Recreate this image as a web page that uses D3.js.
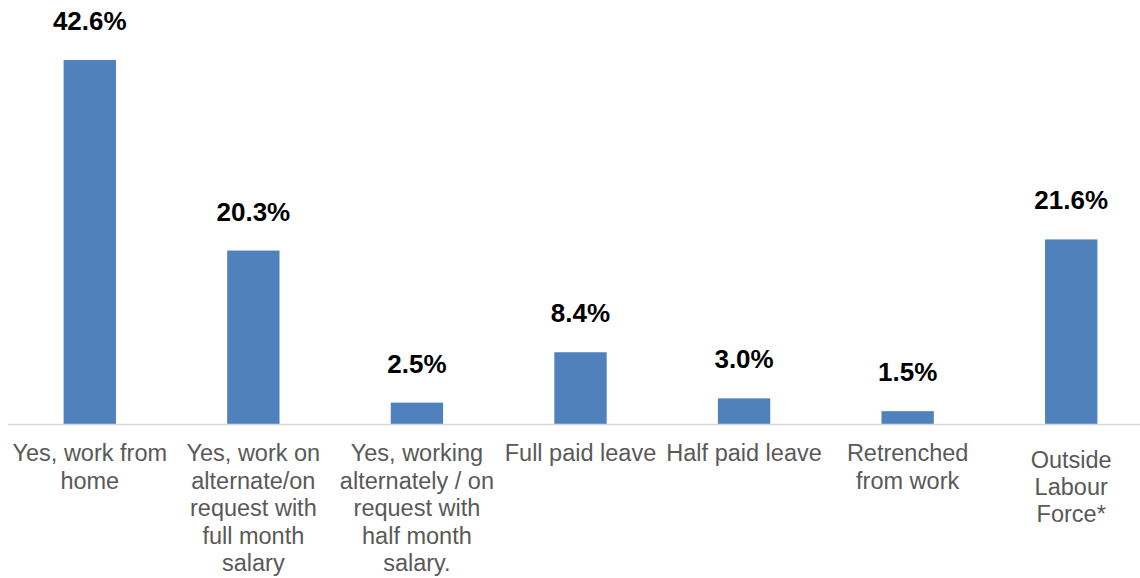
<!DOCTYPE html>
<html>
<head>
<meta charset="utf-8">
<script src="https://cdn.jsdelivr.net/npm/d3@7"></script>
<style>
  html, body { margin: 0; padding: 0; background: #fff; }
  svg { display: block; font-family: "Liberation Sans", Arial, sans-serif; }
</style>
</head>
<body>
<svg id="chart" width="1140" height="578"></svg>
<script>
// Employment status categories (each label broken into its display lines)
const categories = [
  "Yes, work from home",
  "Yes, work on alternate/on request with full month salary",
  "Yes, working alternately / on request with half month salary.",
  "Full paid leave",
  "Half paid leave",
  "Retrenched from work",
  "Outside Labour Force*"
];
const categoryLines = [
  ["Yes, work from", "home"],
  ["Yes, work on", "alternate/on", "request with", "full month", "salary"],
  ["Yes, working", "alternately / on", "request with", "half month", "salary."],
  ["Full paid leave"],
  ["Half paid leave"],
  ["Retrenched", "from work"],
  ["Outside", "Labour", "Force*"]
];
// Share of respondents, in percent
const values = [42.6, 20.3, 2.5, 8.4, 3.0, 1.5, 21.6];

const svg = d3.select("#chart");
const baseY = 424;

const x = d3.scaleBand()
  .domain(categories)
  .range([8, 1153])
  .paddingInner(0.68)
  .paddingOuter(0.34);

const y = d3.scaleLinear()
  .domain([0, d3.max(values)])
  .range([baseY, 60]);

// Bars
svg.append("g")
  .selectAll("rect")
  .data(values)
  .join("rect")
  .attr("x", (d, i) => x(categories[i]))
  .attr("y", d => y(d))
  .attr("width", x.bandwidth())
  .attr("height", d => baseY - y(d))
  .attr("fill", "#4f81bd");

// Category axis line
svg.append("line")
  .attr("x1", 8).attr("x2", 1153)
  .attr("y1", baseY + 0.5).attr("y2", baseY + 0.5)
  .attr("stroke", "#d9d9d9")
  .attr("stroke-width", 1.5);

// Value labels above bars
svg.append("g")
  .selectAll("text")
  .data(values)
  .join("text")
  .attr("x", (d, i) => x(categories[i]) + x.bandwidth() / 2)
  .attr("y", d => y(d) - 30)
  .attr("text-anchor", "middle")
  .attr("font-size", 26)
  .attr("font-weight", "bold")
  .attr("fill", "#000")
  .text(d => d.toFixed(1) + "%");

// Category labels, wrapped
const labels = svg.append("g")
  .selectAll("text")
  .data(categories)
  .join("text")
  .attr("x", d => x(d) + x.bandwidth() / 2)
  .attr("y", (d, i) => i === categories.length - 1 ? 468 : 461)
  .attr("text-anchor", "middle")
  .attr("font-size", 23.5)
  .attr("fill", "#595959");

labels.each(function(d, i) {
  const t = d3.select(this);
  const cx = x(d) + x.bandwidth() / 2;
  const lh = i === categories.length - 1 ? 27 : 27.5;
  categoryLines[i].forEach((line, j) => {
    t.append("tspan")
      .attr("x", cx)
      .attr("dy", j === 0 ? 0 : lh)
      .text(line);
  });
});
</script>
</body>
</html>
